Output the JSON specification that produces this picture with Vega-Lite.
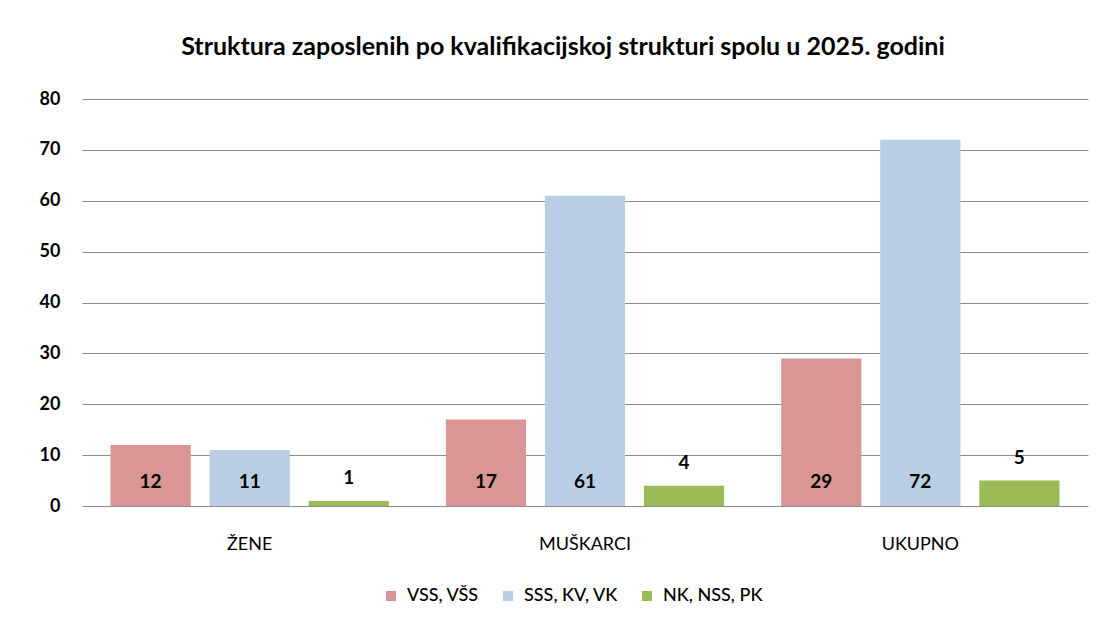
{
  "$schema": "https://vega.github.io/schema/vega-lite/v6.json",
  "autosize": {"type": "none"},
  "width": 1006,
  "height": 407,
  "padding": {"left": 82, "top": 99, "right": 15, "bottom": 119},
  "background": "white",
  "title": {
    "text": "Struktura zaposlenih po kvalifikacijskoj strukturi spolu u 2025. godini",
    "font": "Lato",
    "fontSize": 25,
    "fontWeight": "bold",
    "color": "#000000",
    "anchor": "middle",
    "dx": -22,
    "offset": 30
  },
  "data": {
    "values": [
      {"kat": "ŽENE", "serija": "VSS, VŠS", "v": 12},
      {"kat": "ŽENE", "serija": "SSS, KV, VK", "v": 11},
      {"kat": "ŽENE", "serija": "NK, NSS, PK", "v": 1},
      {"kat": "MUŠKARCI", "serija": "VSS, VŠS", "v": 17},
      {"kat": "MUŠKARCI", "serija": "SSS, KV, VK", "v": 61},
      {"kat": "MUŠKARCI", "serija": "NK, NSS, PK", "v": 4},
      {"kat": "UKUPNO", "serija": "VSS, VŠS", "v": 29},
      {"kat": "UKUPNO", "serija": "SSS, KV, VK", "v": 72},
      {"kat": "UKUPNO", "serija": "NK, NSS, PK", "v": 5}
    ]
  },
  "encoding": {
    "x": {
      "field": "kat",
      "type": "nominal",
      "sort": ["ŽENE", "MUŠKARCI", "UKUPNO"],
      "scale": {"paddingInner": 0.17, "paddingOuter": 0.085},
      "axis": {
        "title": null,
        "labelAngle": 0,
        "ticks": false,
        "domain": false,
        "labelPadding": 29,
        "labelFont": "Lato",
        "labelFontSize": 18,
        "labelColor": "#000000"
      }
    },
    "xOffset": {
      "field": "serija",
      "type": "nominal",
      "sort": ["VSS, VŠS", "SSS, KV, VK", "NK, NSS, PK"],
      "scale": {"paddingInner": 0.19, "paddingOuter": 0}
    }
  },
  "layer": [
    {
      "mark": {"type": "bar"},
      "encoding": {
        "y": {
          "field": "v",
          "type": "quantitative",
          "scale": {"domain": [0, 80], "nice": false},
          "axis": {
            "title": null,
            "values": [0, 10, 20, 30, 40, 50, 60, 70, 80],
            "ticks": false,
            "domain": false,
            "grid": true,
            "gridColor": "#8c8c8c",
            "gridWidth": 1,
            "labelPadding": 22,
            "labelFont": "Lato",
            "labelFontSize": 18,
            "labelFontWeight": "bold",
            "labelColor": "#000000"
          }
        },
        "color": {
          "field": "serija",
          "type": "nominal",
          "sort": ["VSS, VŠS", "SSS, KV, VK", "NK, NSS, PK"],
          "scale": {
            "domain": ["VSS, VŠS", "SSS, KV, VK", "NK, NSS, PK"],
            "range": ["#D99694", "#B9CDE5", "#9BBB59"]
          },
          "legend": {
            "title": null,
            "orient": "none",
            "legendX": 300,
            "legendY": 488,
            "direction": "horizontal",
            "symbolType": "square",
            "symbolSize": 100,
            "symbolStrokeWidth": 0,
            "labelFont": "Lato",
            "labelFontSize": 18,
            "labelFontWeight": 500,
            "labelColor": "#000000",
            "labelOffset": 7,
            "columnPadding": 20
          }
        }
      }
    },
    {
      "transform": [{"filter": "datum.v >= 10"}],
      "mark": {"type": "text", "dy": -24, "baseline": "middle", "font": "Lato", "fontSize": 19, "fontWeight": "bold", "color": "#000000"},
      "encoding": {
        "y": {"datum": 0, "type": "quantitative"},
        "text": {"field": "v", "type": "quantitative"}
      }
    },
    {
      "transform": [{"filter": "datum.v < 10"}],
      "mark": {"type": "text", "dy": -23, "baseline": "middle", "font": "Lato", "fontSize": 19, "fontWeight": "bold", "color": "#000000"},
      "encoding": {
        "y": {"field": "v", "type": "quantitative"},
        "text": {"field": "v", "type": "quantitative"}
      }
    }
  ],
  "config": {"view": {"stroke": null}}
}
